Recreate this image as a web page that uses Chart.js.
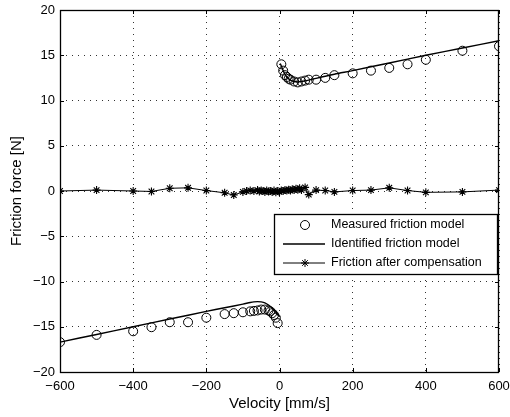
<!DOCTYPE html>
<html>
<head>
<meta charset="utf-8">
<script src="https://cdn.jsdelivr.net/npm/chart.js@4"></script>
<style>
  html, body { margin: 0; padding: 0; background: #fff; }
  #wrap { width: 510px; height: 417px; }
</style>
</head>
<body>
<div id="wrap"><canvas id="friction-chart" width="510" height="417"></canvas></div>
<script>
// measured friction (open circles)
var measV = [-600, -500, -400, -350, -300, -250, -200, -150, -125, -100, -80, -70, -60, -50, -40, -30, -25, -20, -15, -10, -5,
             5, 10, 15, 20, 25, 30, 40, 50, 60, 70, 80, 100, 125, 150, 200, 250, 300, 350, 400, 500, 600];
var measF = [-16.7, -15.9, -15.5, -15.05, -14.5, -14.5, -14.0, -13.6, -13.5, -13.4, -13.3, -13.25, -13.2, -13.1, -13.1, -13.2, -13.3, -13.5, -13.7, -14.0, -14.6,
             14.0, 13.3, 12.8, 12.6, 12.4, 12.3, 12.1, 12.0, 12.1, 12.2, 12.3, 12.3, 12.5, 12.8, 13.0, 13.3, 13.6, 14.0, 14.5, 15.5, 16.0];

// identified model, negative and positive branch
var modelNegV = [-600, -500, -400, -300, -200, -150, -100, -80, -70, -60, -50, -40, -30, -20, -10, -5, -2];
var modelNegF = [-16.7, -15.85, -15.0, -14.15, -13.3, -12.9, -12.5, -12.32, -12.25, -12.22, -12.25, -12.35, -12.6, -12.95, -13.4, -13.65, -13.85];
var modelPosV = [2, 5, 10, 15, 20, 30, 40, 50, 60, 80, 100, 150, 200, 300, 400, 500, 600];
var modelPosF = [14.1, 13.8, 13.3, 12.9, 12.6, 12.25, 12.1, 12.05, 12.1, 12.25, 12.45, 12.9, 13.3, 14.15, 15.0, 15.8, 16.6];

// friction after compensation (stars)
var compV = [-600, -500, -400, -350, -300, -250, -200, -150, -125, -100, -90, -80, -70, -60, -55, -50, -45, -40, -35, -30, -25, -20, -15, -10, -5, 0,
             5, 10, 15, 20, 25, 30, 35, 40, 45, 50, 55, 60, 70, 80, 100, 125, 150, 200, 250, 300, 350, 400, 500, 600];
var compF = [0, 0.1, 0, -0.05, 0.3, 0.35, 0.05, -0.2, -0.45, -0.1, 0, 0.05, 0, 0.1, -0.05, 0.05, 0, -0.1, 0.05, -0.05, 0, -0.1, 0.05, -0.15, 0, -0.1,
             0.05, 0, 0.1, 0.05, 0.15, 0.05, 0.2, 0.1, 0.25, 0.15, 0.3, 0.1, 0.4, -0.4, 0.1, 0.05, -0.1, 0.05, 0.1, 0.35, 0.05, -0.15, -0.1, 0.1];

var xTicks = [-600, -400, -200, 0, 200, 400, 600];
var yTicks = [-20, -15, -10, -5, 0, 5, 10, 15, 20];

var legendLabels = ["Measured friction model", "Identified friction model", "Friction after compensation"];

function pts(xs, ys) {
    return xs.map(function (x, i) { return { x: x, y: ys[i] }; });
}
function minusSign(v) {
    return String(v).replace("-", "\u2212");
}

Chart.defaults.font.family = '"Liberation Sans", Arial, Helvetica, sans-serif';
Chart.defaults.color = "#000";

// box round the plot, inward ticks, and the legend inside the axes
var boxPlugin = {
    id: "boxPlugin",
    afterDraw: function (chart) {
        var ctx = chart.ctx, a = chart.chartArea;
        var xs = chart.scales.x, ys = chart.scales.y;
        ctx.save();
        ctx.strokeStyle = "#000";
        ctx.lineWidth = 1;
        ctx.beginPath();
        xTicks.forEach(function (t) {
            var px = Math.round(xs.getPixelForValue(t)) + 0.5;
            ctx.moveTo(px, a.bottom); ctx.lineTo(px, a.bottom - 4);
            ctx.moveTo(px, a.top); ctx.lineTo(px, a.top + 4);
        });
        yTicks.forEach(function (t) {
            var py = Math.round(ys.getPixelForValue(t)) + 0.5;
            ctx.moveTo(a.left, py); ctx.lineTo(a.left + 4, py);
            ctx.moveTo(a.right, py); ctx.lineTo(a.right - 4, py);
        });
        ctx.stroke();
        ctx.lineWidth = 1.3;
        ctx.strokeRect(Math.round(a.left) + 0.5, Math.round(a.top) + 0.5,
                       Math.round(a.right - a.left) - 1, Math.round(a.bottom - a.top));

        // legend
        var lx = a.right - 225, ly = a.top + 204, lw = 223, lh = 60;
        ctx.fillStyle = "#fff";
        ctx.fillRect(lx, ly, lw, lh);
        ctx.lineWidth = 1.3;
        ctx.strokeRect(lx + 0.5, ly + 0.5, lw, lh);
        ctx.font = '12.5px "Liberation Sans", Arial, sans-serif';
        ctx.fillStyle = "#000";
        ctx.textBaseline = "middle";
        ctx.textAlign = "left";
        var rows = [ly + 11, ly + 30, ly + 49];
        var sx0 = lx + 9, sx1 = lx + 51, sxm = lx + 31;
        ctx.lineWidth = 1;
        // circle
        ctx.beginPath(); ctx.arc(sxm, rows[0], 4.5, 0, Math.PI * 2); ctx.stroke();
        // solid line
        ctx.lineWidth = 1.3;
        ctx.beginPath(); ctx.moveTo(sx0, rows[1]); ctx.lineTo(sx1, rows[1]); ctx.stroke();
        // line with star
        ctx.lineWidth = 1;
        ctx.beginPath(); ctx.moveTo(sx0, rows[2]); ctx.lineTo(sx1, rows[2]);
        for (var k = 0; k < 4; k++) {
            var ang = k * Math.PI / 4;
            ctx.moveTo(sxm - 4 * Math.cos(ang), rows[2] - 4 * Math.sin(ang));
            ctx.lineTo(sxm + 4 * Math.cos(ang), rows[2] + 4 * Math.sin(ang));
        }
        ctx.stroke();
        legendLabels.forEach(function (txt, i) {
            ctx.fillText(txt, lx + 57, rows[i]);
        });
        ctx.restore();
    }
};

new Chart(document.getElementById("friction-chart"), {
    type: "scatter",
    data: {
        datasets: [
            {
                label: legendLabels[0],
                data: pts(measV, measF),
                showLine: false,
                pointStyle: "circle",
                pointRadius: 4.5,
                pointBorderWidth: 1,
                pointBorderColor: "#000",
                pointBackgroundColor: "rgba(0,0,0,0)"
            },
            {
                label: legendLabels[1],
                data: pts(modelNegV, modelNegF),
                showLine: true,
                borderColor: "#000",
                borderWidth: 1.4,
                pointRadius: 0,
                tension: 0.3
            },
            {
                label: legendLabels[1],
                data: pts(modelPosV, modelPosF),
                showLine: true,
                borderColor: "#000",
                borderWidth: 1.4,
                pointRadius: 0,
                tension: 0.3
            },
            {
                label: legendLabels[2],
                data: pts(compV, compF),
                showLine: true,
                borderColor: "#000",
                borderWidth: 1,
                pointStyle: "star",
                pointRadius: 4,
                pointBorderWidth: 1.1,
                pointBorderColor: "#000",
                pointBackgroundColor: "#000"
            }
        ]
    },
    options: {
        responsive: false,
        animation: false,
        layout: { padding: { left: 0, right: 11, top: 10, bottom: 0 } },
        plugins: {
            legend: { display: false },
            tooltip: { enabled: false }
        },
        scales: {
            x: {
                type: "linear",
                min: -600,
                max: 600,
                afterFit: function (s) { s.height = 45; s.paddingLeft = 0; s.paddingRight = 0; },
                afterBuildTicks: function (s) { s.ticks = xTicks.map(function (v) { return { value: v }; }); },
                ticks: {
                    font: { size: 13 },
                    padding: 7,
                    maxRotation: 0,
                    callback: function (v) { return minusSign(v); }
                },
                grid: { color: "#333", lineWidth: 1, drawTicks: false },
                border: { display: false, dash: [1, 5] },
                title: { display: true, text: "Velocity [mm/s]", font: { size: 15 }, padding: { top: 0, bottom: 4 } }
            },
            y: {
                type: "linear",
                min: -20,
                max: 20,
                afterFit: function (s) { s.width = 60; s.paddingTop = 0; s.paddingBottom = 0; },
                afterBuildTicks: function (s) { s.ticks = yTicks.map(function (v) { return { value: v }; }); },
                ticks: {
                    font: { size: 13 },
                    padding: 5,
                    callback: function (v) { return minusSign(v); }
                },
                grid: { color: "#333", lineWidth: 1, drawTicks: false },
                border: { display: false, dash: [1, 5] },
                title: { display: true, text: "Friction force [N]", font: { size: 15 }, padding: { top: 8, bottom: 0 } }
            }
        }
    },
    plugins: [boxPlugin]
});
</script>
</body>
</html>
